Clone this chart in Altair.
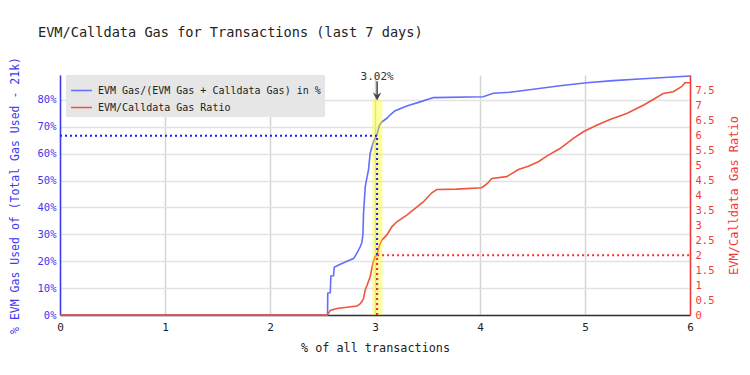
import altair as alt
import pandas as pd

# ---- data ----
blue_x = [0, 2.548, 2.550, 2.574, 2.580, 2.605, 2.612, 2.653, 2.733, 2.796, 2.828, 2.859,
          2.875, 2.885, 2.891, 2.907, 2.92, 2.938, 2.954, 2.986, 3.018, 3.043, 3.066,
          3.113, 3.145, 3.192, 3.303, 3.43, 3.557, 4.03, 4.127, 4.286, 4.508, 4.762,
          5.016, 5.27, 5.555, 6.0]
blue_y = [0, 0, 8.1, 8.3, 14.5, 14.6, 17.8, 18.6, 20.0, 21.0, 23.0, 25.4,
          27.0, 30.0, 38.0, 47.7, 50.5, 54.0, 60.2, 64.5, 67.0, 70.7, 71.9,
          73.2, 74.5, 76.0, 77.8, 79.3, 80.9, 81.2, 82.5, 82.9, 84.0, 85.3,
          86.4, 87.2, 87.9, 88.9]

red_x = [0, 2.545, 2.56, 2.574, 2.637, 2.733, 2.828, 2.86, 2.875, 2.891, 2.907, 2.923,
         2.954, 2.98, 3.0, 3.018, 3.04, 3.066, 3.113, 3.16, 3.208, 3.303, 3.383, 3.462,
         3.541, 3.589, 3.779, 4.017, 4.07, 4.112, 4.255, 4.366, 4.46, 4.556, 4.651,
         4.762, 4.889, 4.984, 5.111, 5.238, 5.397, 5.555, 5.65, 5.745, 5.84, 5.92,
         5.952, 6.0]
red_y = [0, 0, 0.08, 0.15, 0.22, 0.26, 0.30, 0.38, 0.45, 0.56, 0.84, 0.98,
         1.28, 1.73, 1.95, 2.0, 2.3, 2.51, 2.68, 2.95, 3.12, 3.34, 3.57, 3.79,
         4.09, 4.20, 4.21, 4.26, 4.40, 4.57, 4.63, 4.87, 4.98, 5.13, 5.35,
         5.57, 5.91, 6.13, 6.35, 6.54, 6.74, 7.02, 7.21, 7.41, 7.47, 7.64,
         7.77, 7.77]

series_names = ["EVM Gas/(EVM Gas + Calldata Gas) in %", "EVM/Calldata Gas Ratio"]
marker_x = 3.02
marker_pct = 66.67
marker_ratio = 2.0
band_x = [2.975, 3.07]
band_top = 80.0
marker_label = "3.02%"
x_ticks = [0, 1, 2, 3, 4, 5, 6]
pct_ticks = [0, 10, 20, 30, 40, 50, 60, 70, 80]
ratio_ticks = [0, 0.5, 1, 1.5, 2, 2.5, 3, 3.5, 4, 4.5, 5, 5.5, 6, 6.5, 7, 7.5]

PCT_MAX = 89.3
RATIO_MAX = 8.03
FONT = "DejaVu Sans Mono"
BLUE = "#636efa"
RED = "#ef553b"
AX_BLUE = "#3a3af0"
AX_RED = "#f03a3a"

blue_df = pd.DataFrame({"x": blue_x, "y": blue_y, "series": series_names[0]})
red_df = pd.DataFrame({"x": red_x, "y": red_y, "series": series_names[1]})

xscale = alt.Scale(domain=[0, 6], nice=False, zero=False)
pscale = alt.Scale(domain=[0, PCT_MAX], nice=False, zero=False)
rscale = alt.Scale(domain=[0, RATIO_MAX], nice=False, zero=False)
cscale = alt.Scale(domain=series_names, range=[BLUE, RED])

x_axis = alt.Axis(values=x_ticks, title="% of all transactions", grid=True,
                  gridColor="#d4d4d4", gridWidth=1.5, ticks=False, domainColor="#333",
                  domainWidth=1.5, labelFont=FONT, labelFontSize=11, labelColor="#222",
                  labelPadding=6, labelFlush=False, titleFont=FONT, titleFontSize=11.8,
                  titleFontWeight="normal", titleColor="#222", titlePadding=10)

legend = alt.Legend(title=None, orient="none", legendX=6, legendY=0, fillColor="#e6e6e6",
                    padding=4, symbolType="stroke", symbolSize=441, symbolStrokeWidth=1.5,
                    labelFont=FONT, labelFontSize=10, labelColor="#222", labelLimit=400,
                    labelOffset=5, rowPadding=-3)

X = alt.X("x:Q", scale=xscale, axis=x_axis)

blue_line = alt.Chart(blue_df).mark_line(strokeWidth=1.6).encode(
    x=X,
    y=alt.Y("y:Q", scale=pscale, axis=alt.Axis(
        values=pct_ticks, labelExpr="datum.value + '%'", orient="left",
        title="% EVM Gas Used of (Total Gas Used - 21k)", grid=True, gridColor="#e2e2e2",
        gridWidth=1.5, ticks=False, domainColor=AX_BLUE, domainWidth=1.5,
        labelColor=AX_BLUE, labelFont=FONT, labelFontSize=10.5, labelPadding=4,
        titleColor=AX_BLUE, titleFont=FONT, titleFontSize=11.5, titleFontWeight="normal",
        titlePadding=17)),
    color=alt.Color("series:N", scale=cscale, legend=legend),
)

red_line = alt.Chart(red_df).mark_line(strokeWidth=1.6).encode(
    x=X,
    y=alt.Y("y:Q", scale=rscale, axis=alt.Axis(
        values=ratio_ticks, format="~g", orient="right", title="EVM/Calldata Gas Ratio",
        grid=False, ticks=False, domainColor=AX_RED, domainWidth=1.5,
        labelColor=AX_RED, labelFont=FONT, labelFontSize=10.5, labelPadding=5,
        titleColor=AX_RED, titleFont=FONT, titleFontSize=12, titleFontWeight="normal",
        titleAngle=270, titleBaseline="top", titlePadding=15)),
    color=alt.Color("series:N", scale=cscale, legend=legend),
)

band_df = pd.DataFrame({"x": [band_x[0]], "x2": [band_x[1]], "y1": [0.0], "y2": [band_top]})
band = alt.Chart(band_df).mark_rect(color="#ffff00", opacity=0.4).encode(
    x=X, x2="x2:Q",
    y=alt.Y("y1:Q", scale=pscale, axis=None), y2="y2:Q",
)

bdot_df = pd.DataFrame({"x": [0.0, marker_x], "x2": [marker_x, marker_x],
                        "y1": [marker_pct, 0.0], "y2": [marker_pct, marker_pct]})
blue_dots = alt.Chart(bdot_df).mark_rule(color="#1a1aff", strokeWidth=2, strokeDash=[2, 3]).encode(
    x=X, x2="x2:Q",
    y=alt.Y("y1:Q", scale=pscale, axis=None), y2="y2:Q",
)

rdot_df = pd.DataFrame({"x": [marker_x, marker_x], "x2": [6.0, marker_x],
                        "y1": [marker_ratio, 0.0], "y2": [marker_ratio, marker_ratio]})
red_dots = alt.Chart(rdot_df).mark_rule(color="#ff2a2a", strokeWidth=2, strokeDash=[2, 3]).encode(
    x=X, x2="x2:Q",
    y=alt.Y("y1:Q", scale=rscale, axis=None), y2="y2:Q",
)

ann_df = pd.DataFrame({"x": [marker_x], "ty": [88.6], "a1": [87.0], "a2": [81.2],
                       "hy": [81.6], "label": [marker_label]})
ann_text = alt.Chart(ann_df).mark_text(font=FONT, fontSize=11, color="#333").encode(
    x=X, y=alt.Y("ty:Q", scale=pscale, axis=None), text="label:N",
)
ann_shaft = alt.Chart(ann_df).mark_rule(color="#444", strokeWidth=1.5).encode(
    x=X, y=alt.Y("a1:Q", scale=pscale, axis=None), y2="a2:Q",
)
ann_head = alt.Chart(ann_df).mark_point(
    shape="M0,1L-0.9,-0.7L0,-0.1L0.9,-0.7Z", filled=True, color="#444", size=90, opacity=1
).encode(
    x=X, y=alt.Y("hy:Q", scale=pscale, axis=None),
)

chart = alt.layer(
    blue_line, red_line, band, blue_dots, red_dots, ann_shaft, ann_head, ann_text
).resolve_scale(y="independent").properties(
    width=630, height=240,
    autosize=alt.AutoSizeParams(type="none"),
    padding={"left": 52, "top": 67, "right": 52, "bottom": 52},
    title=alt.TitleParams("EVM/Calldata Gas for Transactions (last 7 days)", anchor="start",
                          font=FONT, fontSize=13.6, fontWeight="normal", color="#222",
                          frame="group", dx=-22, offset=17),
).configure_view(stroke=None)

chart.save("out.html", embed_options={"renderer": "svg", "actions": False})
